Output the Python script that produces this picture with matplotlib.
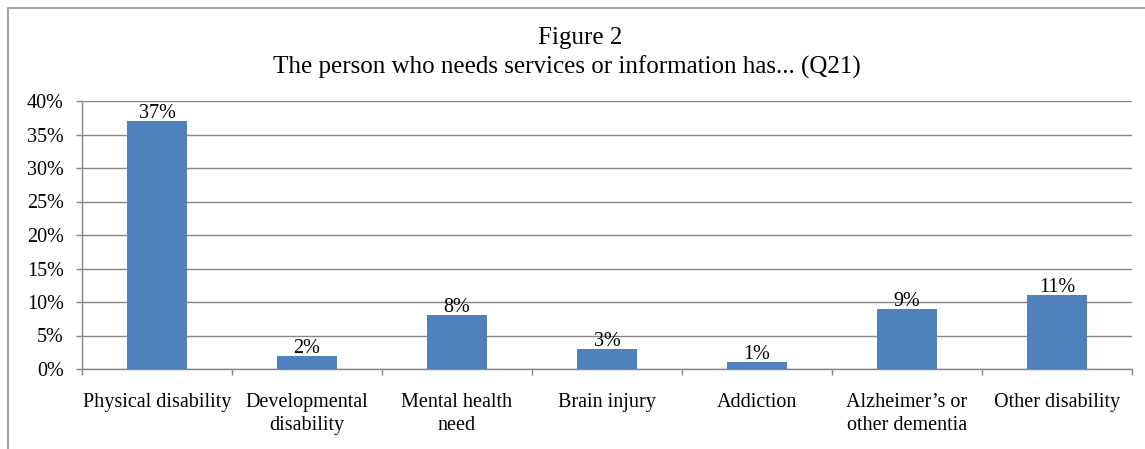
import matplotlib
matplotlib.use("Agg")
import matplotlib.pyplot as plt
from matplotlib.lines import Line2D
import numpy as np

categories = ["Physical disability", "Developmental\ndisability", "Mental health\nneed",
              "Brain injury", "Addiction", "Alzheimer\u2019s or\nother dementia", "Other disability"]
values = [37, 2, 8, 3, 1, 9, 11]
yticks = [0, 5, 10, 15, 20, 25, 30, 35, 40]
title_lines = ["Figure 2", "The person who needs services or information has... (Q21)"]

plt.rcParams["font.family"] = ["Liberation Serif", "DejaVu Serif"]

W, H = 1145, 449
fig = plt.figure(figsize=(W / 100, H / 100), dpi=100)

ax = fig.add_axes([82 / W, 1 - 369 / H, (1132 - 82) / W, (369 - 101) / H])

bar_color = "#4F81BD"
grid_color = "#868686"
label_size = 14.5
x = np.arange(len(categories))
bars = ax.bar(x, values, width=0.4, color=bar_color, zorder=3)

for xi, v in zip(x, values):
    ax.annotate(f"{v}%", (xi, v), xytext=(0, -1.5), textcoords="offset points",
                ha="center", va="bottom", fontsize=label_size, zorder=4)

ax.set_xlim(-0.5, len(categories) - 0.5)
ax.set_ylim(0, 40)
ax.set_yticks(yticks)
ax.set_yticklabels([f"{t}%" for t in yticks], fontsize=label_size)
ax.yaxis.grid(True, color=grid_color, linewidth=1.0, zorder=0)
ax.set_axisbelow(True)

ax.set_xticks(x)
ax.set_xticklabels(categories, fontsize=label_size, linespacing=1.32)
ax.tick_params(axis="x", which="major", length=0, pad=17)
ax.set_xticks(np.arange(-0.5, len(categories), 1.0), minor=True)
ax.tick_params(axis="x", which="minor", length=4, color=grid_color, width=1.0)
ax.tick_params(axis="y", length=4, color=grid_color, width=1.0, pad=9)

for side in ["top", "right"]:
    ax.spines[side].set_visible(False)
for side in ["left", "bottom"]:
    ax.spines[side].set_color(grid_color)
    ax.spines[side].set_linewidth(1.0)

fig.text(580 / W, 1 - 38 / H, title_lines[0], ha="center", va="center", fontsize=18)
fig.text(567 / W, 1 - 67 / H, title_lines[1], ha="center", va="center", fontsize=18)

# chart area frame (top and left edges)
frame = Line2D([8 / W, 8 / W, 1.0], [0.0, 1 - 7.5 / H, 1 - 7.5 / H],
               transform=fig.transFigure, color="#A6A6A6", linewidth=1.5)
fig.add_artist(frame)

fig.savefig("out.png", dpi=100)
